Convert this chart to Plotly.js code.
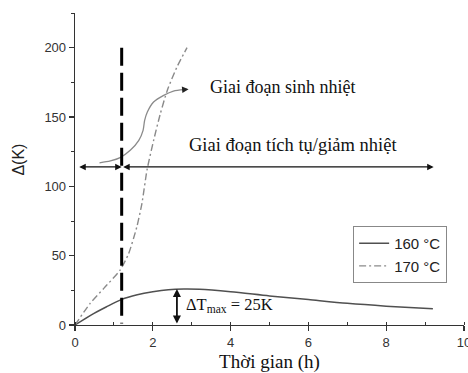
<!DOCTYPE html>
<html>
<head>
<meta charset="utf-8">
<script src="https://cdn.plot.ly/plotly-3.0.1.min.js"></script>
<style>html,body{margin:0;padding:0;background:#fff;}#chart{width:468px;height:373px;}</style>
</head>
<body>
<div id="chart"></div>
<script>
// ---- data ----
const seriesNames = ['160 \u00B0C', '170 \u00B0C'];
const x160 = [0, 0.4, 0.8, 1.2, 1.6, 2.0, 2.4, 2.8, 3.2, 4.0, 5.0, 6.0, 7.0, 8.0, 9.2];
const y160 = [0, 7, 13, 18.5, 21.8, 24, 25.5, 26, 25.8, 24, 21, 18.3, 15.6, 13.6, 11.8];
const x170 = [0, 0.39, 0.74, 1.16, 1.38, 1.59, 1.72, 1.85, 2.02, 2.19, 2.37, 2.62, 2.88];
const y170 = [0, 15.6, 26.4, 39.6, 51.6, 70.8, 87.6, 111.6, 133, 152, 169, 186, 200];
// S-shaped "heat generation" guide curve
const xGen = [0.63, 0.91, 1.16, 1.42, 1.64, 1.75, 1.79, 1.86, 2.02, 2.28, 2.53, 2.80];
const yGen = [116.9, 118.3, 120.7, 126, 133.2, 140.4, 147.6, 153.6, 160.8, 165.6, 168.7, 169.7];
const genArrowTip = [2.92, 170];
// vertical dashed marker
const markerX = [1.2, 1.2];
const markerY = [200, 1];
// horizontal double arrows
const phaseY = 114;
const phaseBounds = [0.07, 1.2, 9.22];
// Delta T max arrow
const dTx = 2.62;
const dTrange = [0, 26];
const labels = {
  gen: 'Giai \u0111o\u1ea1n sinh nhi\u1ec7t',
  acc: 'Giai \u0111o\u1ea1n t\u00edch t\u1ee5/gi\u1ea3m nhi\u1ec7t',
  dT: '\u0394T<sub>max</sub> = 25K',
  xTitle: 'Th\u1eddi gian (h)',
  yTitle: '\u0394(K)'
};
const xTicks = [0, 2, 4, 6, 8, 10];
const yTicks = [0, 50, 100, 150, 200];

const serif = 'Liberation Serif, Times New Roman, serif';
const sans = 'Liberation Sans, Arial, sans-serif';

const traces = [
  {x: x160, y: y160, name: seriesNames[0], mode: 'lines', line: {color: '#505050', width: 1.5, shape: 'spline', smoothing: 0.8}},
  {x: x170, y: y170, name: seriesNames[1], mode: 'lines', line: {color: '#8a8a8a', width: 1.4, dash: '7px,3px,2px,3px', shape: 'spline', smoothing: 0.6}},
  {x: xGen, y: yGen, mode: 'lines', showlegend: false, line: {color: '#8a8a8a', width: 1.3, shape: 'spline', smoothing: 0.8}},
  {x: markerX, y: markerY, mode: 'lines', showlegend: false, line: {color: '#000', width: 3, dash: '18px,7px'}}
];

const arrowBase = {xref: 'x', yref: 'y', axref: 'x', ayref: 'y', text: '', showarrow: true,
  arrowcolor: '#111', arrowwidth: 1.3, arrowhead: 2, arrowsize: 1, startarrowhead: 2, startarrowsize: 1, standoff: 0, startstandoff: 0};

const annotations = [
  Object.assign({}, arrowBase, {x: phaseBounds[1], y: phaseY, ax: phaseBounds[0], ay: phaseY, arrowside: 'end+start'}),
  Object.assign({}, arrowBase, {x: phaseBounds[2], y: phaseY, ax: phaseBounds[1], ay: phaseY, arrowside: 'end+start'}),
  Object.assign({}, arrowBase, {x: dTx, y: dTrange[1], ax: dTx, ay: dTrange[0], arrowside: 'end+start', arrowwidth: 1.8, arrowsize: 0.9, startarrowsize: 0.9}),
  Object.assign({}, arrowBase, {x: genArrowTip[0], y: genArrowTip[1], ax: xGen[xGen.length - 1], ay: yGen[yGen.length - 1], arrowside: 'end', arrowcolor: '#222'}),
  {xref: 'x', yref: 'y', x: 3.42, y: 171.6, xanchor: 'left', yanchor: 'middle', text: labels.gen, showarrow: false, font: {family: serif, size: 18, color: '#111'}},
  {xref: 'x', yref: 'y', x: 2.88, y: 129.6, xanchor: 'left', yanchor: 'middle', text: labels.acc, showarrow: false, font: {family: serif, size: 18.5, color: '#111'}},
  {xref: 'x', yref: 'y', x: 2.8, y: 14.5, xanchor: 'left', yanchor: 'middle', text: labels.dT, showarrow: false, font: {family: serif, size: 16.5, color: '#111'}},
  {xref: 'paper', yref: 'y', x: -0.145, y: 119, xanchor: 'center', yanchor: 'middle', textangle: -90, text: labels.yTitle, showarrow: false, font: {family: sans, size: 16, color: '#222'}}
];

const layout = {
  width: 468, height: 373,
  margin: {l: 75, r: 4, t: 13, b: 48},
  paper_bgcolor: '#fff', plot_bgcolor: '#fff',
  showlegend: true,
  legend: {x: 0.715, y: 0.317, xanchor: 'left', yanchor: 'top', bordercolor: '#888', borderwidth: 1, bgcolor: '#fff',
    font: {family: sans, size: 15, color: '#222'}, tracegroupgap: 0, itemwidth: 30},
  xaxis: {range: [0, 10], tickvals: xTicks, ticktext: xTicks.map(String), showgrid: false, zeroline: false,
    showline: true, linecolor: '#333', linewidth: 1.3, ticks: 'outside', ticklen: 5, tickcolor: '#333', tickwidth: 1.2,
    minor: {dtick: 1, ticks: 'inside', ticklen: 3, tickcolor: '#333', tickwidth: 1, showgrid: false},
    tickfont: {family: sans, size: 13, color: '#333'}, ticklabeloverflow: 'allow',
    title: {text: labels.xTitle, font: {family: serif, size: 19, color: '#111'}, standoff: 6}},
  yaxis: {range: [0, 225], tickvals: yTicks, ticktext: yTicks.map(String), showgrid: false, zeroline: false,
    showline: true, linecolor: '#333', linewidth: 1.3, ticks: 'outside', ticklen: 5, tickcolor: '#333', tickwidth: 1.2,
    minor: {tick0: 25, dtick: 50, ticks: 'outside', ticklen: 3, tickcolor: '#333', tickwidth: 1, showgrid: false},
    tickfont: {family: sans, size: 13, color: '#333'}},
  annotations: annotations
};

Plotly.newPlot('chart', traces, layout, {staticPlot: true, displayModeBar: false});
</script>
</body>
</html>
